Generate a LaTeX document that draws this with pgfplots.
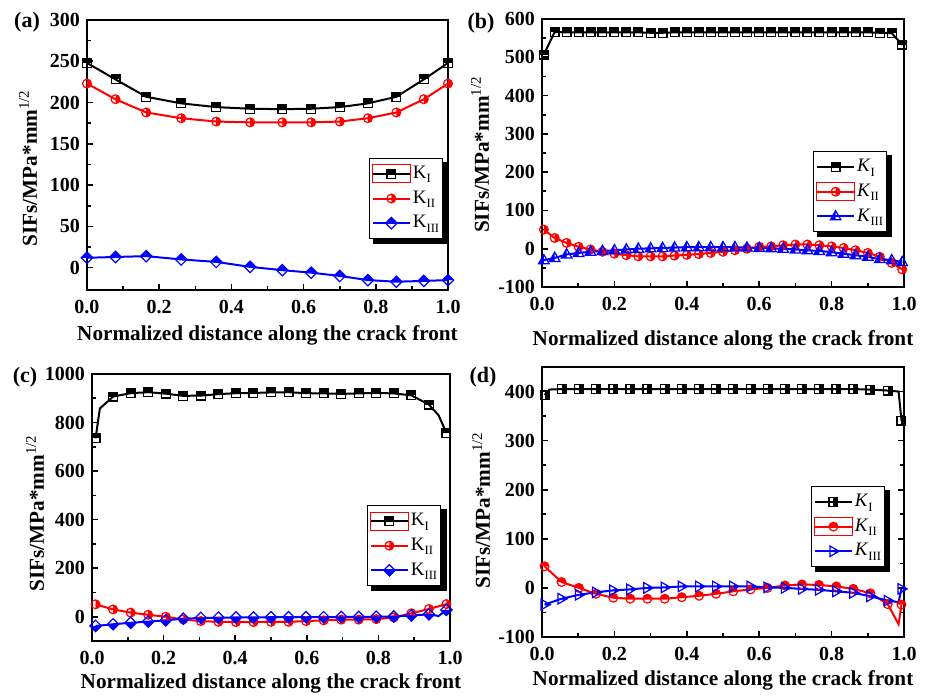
\documentclass[border=0pt]{standalone}
\usepackage{fontspec}
\setmainfont{Liberation Serif}
\usepackage{pgfplots}
\pgfplotsset{compat=1.18}

% half-filled marks: white body, coloured half, outline
\pgfdeclareplotmark{hsqup}{%
 \pgfpathrectangle{\pgfpoint{-\pgfplotmarksize}{-\pgfplotmarksize}}{\pgfpoint{2\pgfplotmarksize}{2\pgfplotmarksize}}%
 \begin{pgfscope}\pgfsetfillcolor{white}\pgfusepathqfill\end{pgfscope}%
 \pgfpathrectangle{\pgfpoint{-\pgfplotmarksize}{0pt}}{\pgfpoint{2\pgfplotmarksize}{\pgfplotmarksize}}%
 \pgfusepathqfill
 \pgfpathrectangle{\pgfpoint{-\pgfplotmarksize}{-\pgfplotmarksize}}{\pgfpoint{2\pgfplotmarksize}{2\pgfplotmarksize}}%
 \pgfusepathqstroke}
\pgfdeclareplotmark{hsqright}{%
 \pgfpathrectangle{\pgfpoint{-\pgfplotmarksize}{-\pgfplotmarksize}}{\pgfpoint{2\pgfplotmarksize}{2\pgfplotmarksize}}%
 \begin{pgfscope}\pgfsetfillcolor{white}\pgfusepathqfill\end{pgfscope}%
 \pgfpathrectangle{\pgfpoint{0pt}{-\pgfplotmarksize}}{\pgfpoint{\pgfplotmarksize}{2\pgfplotmarksize}}%
 \pgfusepathqfill
 \pgfpathrectangle{\pgfpoint{-\pgfplotmarksize}{-\pgfplotmarksize}}{\pgfpoint{2\pgfplotmarksize}{2\pgfplotmarksize}}%
 \pgfusepathqstroke}
\pgfdeclareplotmark{hcright}{%
 \pgfpathcircle{\pgfpointorigin}{\pgfplotmarksize}%
 \begin{pgfscope}\pgfsetfillcolor{white}\pgfusepathqfill\end{pgfscope}%
 \pgfpathmoveto{\pgfpoint{0pt}{-\pgfplotmarksize}}%
 \pgfpatharc{-90}{90}{\pgfplotmarksize}\pgfpathclose
 \pgfusepathqfill
 \pgfpathcircle{\pgfpointorigin}{\pgfplotmarksize}%
 \pgfusepathqstroke}
\pgfdeclareplotmark{hcup}{%
 \pgfpathcircle{\pgfpointorigin}{\pgfplotmarksize}%
 \begin{pgfscope}\pgfsetfillcolor{white}\pgfusepathqfill\end{pgfscope}%
 \pgfpathmoveto{\pgfpoint{\pgfplotmarksize}{0pt}}%
 \pgfpatharc{0}{180}{\pgfplotmarksize}\pgfpathclose
 \pgfusepathqfill
 \pgfpathcircle{\pgfpointorigin}{\pgfplotmarksize}%
 \pgfusepathqstroke}
\def\dmpath{%
 \pgfpathmoveto{\pgfpoint{0pt}{1.3\pgfplotmarksize}}%
 \pgfpathlineto{\pgfpoint{1.3\pgfplotmarksize}{0pt}}%
 \pgfpathlineto{\pgfpoint{0pt}{-1.3\pgfplotmarksize}}%
 \pgfpathlineto{\pgfpoint{-1.3\pgfplotmarksize}{0pt}}\pgfpathclose}
\pgfdeclareplotmark{hdup}{%
 \dmpath\begin{pgfscope}\pgfsetfillcolor{white}\pgfusepathqfill\end{pgfscope}%
 \pgfpathmoveto{\pgfpoint{0pt}{1.3\pgfplotmarksize}}%
 \pgfpathlineto{\pgfpoint{1.3\pgfplotmarksize}{0pt}}%
 \pgfpathlineto{\pgfpoint{-1.3\pgfplotmarksize}{0pt}}\pgfpathclose
 \pgfusepathqfill
 \dmpath\pgfusepathqstroke}
\pgfdeclareplotmark{hddown}{%
 \dmpath\begin{pgfscope}\pgfsetfillcolor{white}\pgfusepathqfill\end{pgfscope}%
 \pgfpathmoveto{\pgfpoint{0pt}{-1.3\pgfplotmarksize}}%
 \pgfpathlineto{\pgfpoint{1.3\pgfplotmarksize}{0pt}}%
 \pgfpathlineto{\pgfpoint{-1.3\pgfplotmarksize}{0pt}}\pgfpathclose
 \pgfusepathqfill
 \dmpath\pgfusepathqstroke}
\def\trpath{%
 \pgfpathmoveto{\pgfpoint{0pt}{1.3\pgfplotmarksize}}%
 \pgfpathlineto{\pgfpoint{1.2\pgfplotmarksize}{-0.8\pgfplotmarksize}}%
 \pgfpathlineto{\pgfpoint{-1.2\pgfplotmarksize}{-0.8\pgfplotmarksize}}\pgfpathclose}
\pgfdeclareplotmark{htleft}{%
 \trpath\begin{pgfscope}\pgfsetfillcolor{white}\pgfusepathqfill\end{pgfscope}%
 \pgfpathmoveto{\pgfpoint{0pt}{1.3\pgfplotmarksize}}%
 \pgfpathlineto{\pgfpoint{0pt}{-0.8\pgfplotmarksize}}%
 \pgfpathlineto{\pgfpoint{-1.2\pgfplotmarksize}{-0.8\pgfplotmarksize}}\pgfpathclose
 \pgfusepathqfill
 \trpath\pgfusepathqstroke}
\def\trrpath{%
 \pgfpathmoveto{\pgfpoint{1.3\pgfplotmarksize}{0pt}}%
 \pgfpathlineto{\pgfpoint{-0.8\pgfplotmarksize}{1.2\pgfplotmarksize}}%
 \pgfpathlineto{\pgfpoint{-0.8\pgfplotmarksize}{-1.2\pgfplotmarksize}}\pgfpathclose}
\pgfdeclareplotmark{htright}{%
 \trrpath\begin{pgfscope}\pgfsetfillcolor{white}\pgfusepathqfill\end{pgfscope}%
 \pgfpathmoveto{\pgfpoint{1.3\pgfplotmarksize}{0pt}}%
 \pgfpathlineto{\pgfpoint{0.25\pgfplotmarksize}{0.6\pgfplotmarksize}}%
 \pgfpathlineto{\pgfpoint{0.25\pgfplotmarksize}{-0.6\pgfplotmarksize}}\pgfpathclose
 \pgfusepathqfill
 \trrpath\pgfusepathqstroke}

\newcommand\Ku[1]{K\raisebox{-0.5ex}{\fontsize{6.3}{7}\selectfont #1}}
\newcommand\Ki[1]{\textit{K}\raisebox{-0.5ex}{\fontsize{6.3}{7}\selectfont #1}}

\pgfplotsset{
 panel/.style={
  scale only axis, anchor=south west,
  xmin=0, xmax=1, xtick={0,0.2,0.4,0.6,0.8,1},
  minor x tick num=1, minor y tick num=1,
  tick align=inside, tick pos=left,
  axis line style={line width=1pt},
  major tick length=3pt, minor tick length=1.8pt,
  every tick/.style={black, line width=0.8pt},
  tick label style={font=\bfseries\fontsize{10}{12}\selectfont},
  /pgf/number format/assume math mode=true,
  /pgf/number format/1000 sep={},
  xticklabel style={yshift=-1.5pt, /pgf/number format/.cd, fixed, fixed zerofill, precision=1},
  label style={font=\bfseries\fontsize{10.6}{12}\selectfont},
  xlabel={Normalized distance along the crack front},
  ylabel={SIFs/MPa*mm\textsuperscript{\mdseries 1/2}},
  legend cell align=left,
  legend style={anchor=north west, draw=black, line width=0.6pt, fill=white,
    font=\fontsize{9.5}{11}\selectfont, inner xsep=1pt, inner ysep=1.5pt,
    nodes={inner xsep=0.8pt, inner ysep=2.3pt}},
  legend image code/.code={%
   \draw[mark indices={2}] plot coordinates {(0cm,0cm) (0.32cm,0cm) (0.64cm,0cm)};},
 },
 ln/.style={line width=1pt, mark size=2.2pt, mark options={solid, line width=0.6pt}},
 redbox/.style={legend image code/.code={%
   \draw[mark indices={2}] plot coordinates {(0cm,0cm) (0.32cm,0cm) (0.64cm,0cm)};%
   \draw[red, line width=0.5pt, solid] (-0.02cm,-4.5pt) rectangle (0.66cm,4.5pt);}},
}
% drop shadow behind a legend whose top-left corner is at axis description (#1,#2)
\newcommand\shadowat[4]{%
 \fill[black] ([shift={(2pt,-2pt)}]axis description cs:#1,#2) rectangle ([shift={(#3+2pt,-#4-2pt)}]axis description cs:#1,#2);}

\begin{document}
\begin{tikzpicture}
\path[use as bounding box] (0,0) rectangle (465pt,347.5pt);

% ---------------- (a)
\begin{axis}[panel, at={(43.5pt,202.5pt)}, width=180.5pt, height=135pt,
  ymin=-27, ymax=300, ytick={0,50,100,150,200,250,300},
  xlabel style={at={(axis description cs:0.5,-0.167)}, anchor=center},
  ylabel style={at={(axis description cs:-0.163,0.452)}, anchor=center},
  legend style={at={(axis description cs:0.781,0.489)}}]
\addplot[ln, black, mark=hsqup, redbox] coordinates {
(0,248) (0.079,228) (0.164,207) (0.261,199) (0.358,194.5) (0.452,192.5) (0.541,192)
(0.621,192.5) (0.700,194.5) (0.778,199) (0.857,207) (0.933,228) (1.0,248)};
\addlegendentry{\Ku{I}}
\addplot[ln, red, mark=hcright] coordinates {
(0,223) (0.079,204) (0.164,188) (0.261,181) (0.358,177) (0.452,176) (0.541,176)
(0.621,176) (0.700,177) (0.778,181) (0.857,188) (0.933,204) (1.0,223)};
\addlegendentry{\Ku{II}}
\addplot[ln, blue, mark=hdup] coordinates {
(0,12) (0.079,13) (0.164,14) (0.261,10) (0.358,7) (0.452,1) (0.541,-3)
(0.621,-6) (0.700,-10) (0.778,-15) (0.857,-17) (0.933,-16) (1.0,-15)};
\addlegendentry{\Ku{III}}
\shadowat{0.781}{0.489}{38pt}{41pt}
\end{axis}

% ---------------- (b)
\begin{axis}[panel, at={(271pt,204pt)}, width=181pt, height=134pt,
  ymin=-100, ymax=600, ytick={-100,0,100,200,300,400,500,600},
  xlabel style={at={(axis description cs:0.5,-0.198)}, anchor=center},
  ylabel style={at={(axis description cs:-0.171,0.494)}, anchor=center},
  legend style={at={(axis description cs:0.749,0.507)}}]
\addplot[ln, black, mark=hsqup] coordinates {
(0.005,507) (0.035,566) (0.068,565) (0.101,565) (0.134,565) (0.167,565) (0.200,565)
(0.233,565) (0.266,565) (0.300,564) (0.333,564) (0.366,565) (0.400,565) (0.433,565)
(0.466,565) (0.500,565) (0.533,565) (0.566,565) (0.600,565) (0.633,565) (0.666,565)
(0.700,565) (0.733,565) (0.766,565) (0.800,565) (0.833,565) (0.866,565) (0.900,565)
(0.933,564) (0.966,563) (0.995,533)};
\addlegendentry{\Ki{I}}
\addplot[ln, red, mark=hcright, redbox] coordinates {
(0.005,50) (0.035,28) (0.068,15) (0.101,5) (0.134,-2) (0.167,-8) (0.200,-13)
(0.233,-17) (0.266,-20) (0.300,-20) (0.333,-20) (0.366,-18) (0.400,-16) (0.433,-14)
(0.466,-11) (0.500,-8) (0.533,-4) (0.566,0) (0.600,5) (0.633,6) (0.666,9)
(0.700,11) (0.733,11) (0.766,9) (0.800,6) (0.833,2) (0.866,-4) (0.900,-11)
(0.933,-21) (0.966,-37) (0.995,-54)};
\addlegendentry{\Ki{II}}
\addplot[ln, blue, mark=htleft] coordinates {
(0.005,-30) (0.035,-24) (0.068,-15) (0.101,-11) (0.134,-8) (0.167,-6) (0.200,-4)
(0.233,-2) (0.266,0) (0.300,1) (0.333,2) (0.366,3) (0.400,4) (0.433,4)
(0.466,4) (0.500,4) (0.533,4) (0.566,3) (0.600,2) (0.633,1) (0.666,0)
(0.700,-2) (0.733,-4) (0.766,-6) (0.800,-9) (0.833,-13) (0.866,-17) (0.900,-21)
(0.933,-27) (0.966,-30) (0.995,-35)};
\addlegendentry{\Ki{III}}
\shadowat{0.749}{0.507}{37.3pt}{41pt}
\end{axis}

% ---------------- (c)
\begin{axis}[panel, at={(46pt,27pt)}, width=179pt, height=133.5pt,
  ymin=-100, ymax=1000, ytick={0,200,400,600,800,1000},
  xlabel style={at={(axis description cs:0.5,-0.157)}, anchor=center},
  ylabel style={at={(axis description cs:-0.159,0.479)}, anchor=center},
  legend style={at={(axis description cs:0.768,0.509)}}]
\addplot[ln, black, mark=hsqup, redbox,
  mark indices={1,3,4,5,6,7,8,9,10,11,12,13,14,15,16,17,18,19,20,21,23}] coordinates {
(0.010,735) (0.022,858) (0.059,907) (0.108,921) (0.157,925) (0.206,919) (0.255,910)
(0.304,911) (0.353,917) (0.402,921) (0.451,922) (0.500,924) (0.549,925) (0.598,921)
(0.647,920) (0.696,918) (0.745,920) (0.794,922) (0.843,920) (0.892,912) (0.941,874)
(0.968,830) (0.990,757)};
\addlegendentry{\Ku{I}}
\addplot[ln, red, mark=hcright] coordinates {
(0.010,51) (0.059,30) (0.108,17) (0.157,8) (0.206,0) (0.255,-11) (0.304,-18)
(0.353,-21) (0.402,-22) (0.451,-22) (0.500,-21) (0.549,-21) (0.598,-18) (0.647,-15)
(0.696,-12) (0.745,-12) (0.794,-10) (0.843,-3) (0.892,14) (0.941,32) (0.990,52)};
\addlegendentry{\Ku{II}}
\addplot[ln, blue, mark=hddown,
  mark indices={1,2,3,4,5,6,7,8,9,10,11,12,13,14,15,16,17,18,19,20,22}] coordinates {
(0.010,-38) (0.059,-31) (0.108,-25) (0.157,-20) (0.206,-15) (0.255,-8) (0.304,-5)
(0.353,-4) (0.402,-3) (0.451,-3) (0.500,-2) (0.549,-2) (0.598,-2) (0.647,-2)
(0.696,-1) (0.745,-1) (0.794,0) (0.843,1) (0.892,5) (0.941,10) (0.968,3) (0.990,28)};
\addlegendentry{\Ku{III}}
\shadowat{0.768}{0.509}{38pt}{41pt}
\end{axis}

% ---------------- (d)
\begin{axis}[panel, at={(271pt,29pt)}, width=181pt, height=135pt,
  ymin=-100, ymax=450, ytick={-100,0,100,200,300,400},
  ytick pos=both, xtick pos=bottom,
  xlabel style={at={(axis description cs:0.5,-0.159)}, anchor=center},
  ylabel style={at={(axis description cs:-0.168,0.47)}, anchor=center},
  legend style={at={(axis description cs:0.743,0.559)}}]
\addplot[ln, black, mark=hsqright,
  mark indices={1,3,4,5,6,7,8,9,10,11,12,13,14,15,16,17,18,19,20,21,22,24}] coordinates {
(0.007,393) (0.020,404) (0.054,405) (0.102,405) (0.149,405) (0.197,405) (0.244,405)
(0.291,405) (0.339,405) (0.386,405) (0.434,405) (0.481,405) (0.528,405) (0.576,405)
(0.623,405) (0.671,405) (0.718,405) (0.765,405) (0.813,405) (0.860,405) (0.907,404)
(0.955,402) (0.985,400) (0.993,341)};
\addlegendentry{\Ki{I}}
\addplot[ln, red, mark=hcup, redbox,
  mark indices={1,2,3,4,5,6,7,8,9,10,11,12,13,14,15,16,17,18,19,20,21,23}] coordinates {
(0.007,44) (0.054,12) (0.102,0) (0.149,-12) (0.197,-20) (0.244,-22) (0.291,-22)
(0.339,-22) (0.386,-19) (0.434,-16) (0.481,-12) (0.528,-7) (0.576,-3) (0.623,0)
(0.671,5) (0.718,7) (0.765,6) (0.813,3) (0.860,-2) (0.907,-11) (0.955,-33)
(0.985,-74) (0.993,-34)};
\addlegendentry{\Ki{II}}
\addplot[ln, blue, mark=htright,
  mark indices={1,2,3,4,5,6,7,8,9,10,11,12,13,14,15,16,17,18,19,20,21,23}] coordinates {
(0.007,-34) (0.054,-22) (0.102,-14) (0.149,-9) (0.197,-5) (0.244,-3) (0.291,0)
(0.339,1) (0.386,3) (0.434,3) (0.481,3) (0.528,3) (0.576,3) (0.623,1)
(0.671,0) (0.718,-2) (0.765,-4) (0.813,-7) (0.860,-10) (0.907,-17) (0.955,-26)
(0.985,-29) (0.993,-2)};
\addlegendentry{\Ki{III}}
\shadowat{0.743}{0.559}{37.3pt}{41pt}
\end{axis}

\node[font=\bfseries\fontsize{11}{13}\selectfont] at (13.5pt,336.5pt) {(a)};
\node[font=\bfseries\fontsize{11}{13}\selectfont] at (240.5pt,336pt) {(b)};
\node[font=\bfseries\fontsize{11}{13}\selectfont] at (12.5pt,159pt) {(c)};
\node[font=\bfseries\fontsize{11}{13}\selectfont] at (241.5pt,159pt) {(d)};
\end{tikzpicture}
\end{document}
